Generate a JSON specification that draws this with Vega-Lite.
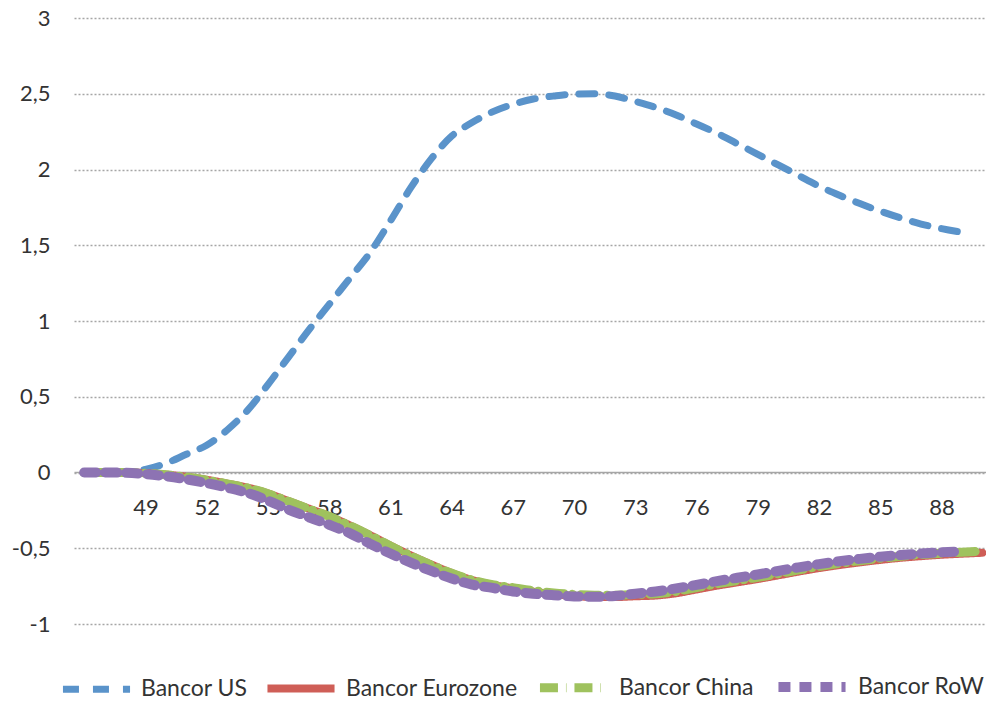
{
  "$schema": "https://vega.github.io/schema/vega-lite/v6.json",
  "autosize": {"type": "none"},
  "width": 912,
  "height": 606,
  "padding": {"left": 74, "top": 18, "right": 0, "bottom": 78},
  "background": "white",
  "config": {
    "view": {"stroke": null},
    "font": "Lato",
    "axis": {"labelFont": "Lato", "labelColor": "#333333", "labelFontSize": 22, "ticks": false, "title": null},
    "legend": {
      "orient": "none",
      "direction": "horizontal",
      "legendX": -15,
      "legendY": 630,
      "symbolType": "stroke",
      "symbolSize": 4500,
      "labelFont": "Lato",
      "labelFontSize": 23,
      "labelColor": "#333333",
      "labelOffset": 7,
      "labelLimit": 400,
      "columnPadding": 3
    }
  },
  "data": {
    "values": [
      {"t": 46, "Bancor US": 0, "Bancor Eurozone": 0, "Bancor China": 0, "Bancor RoW": 0},
      {"t": 47, "Bancor US": 0, "Bancor Eurozone": 0, "Bancor China": 0, "Bancor RoW": 0},
      {"t": 48, "Bancor US": 0.002, "Bancor Eurozone": 0, "Bancor China": 0, "Bancor RoW": -0.002},
      {"t": 49, "Bancor US": 0.02, "Bancor Eurozone": -0.004, "Bancor China": -0.005, "Bancor RoW": -0.01},
      {"t": 50, "Bancor US": 0.06, "Bancor Eurozone": -0.014, "Bancor China": -0.015, "Bancor RoW": -0.025},
      {"t": 51, "Bancor US": 0.12, "Bancor Eurozone": -0.029, "Bancor China": -0.03, "Bancor RoW": -0.045},
      {"t": 52, "Bancor US": 0.18, "Bancor Eurozone": -0.048, "Bancor China": -0.05, "Bancor RoW": -0.07},
      {"t": 53, "Bancor US": 0.28, "Bancor Eurozone": -0.073, "Bancor China": -0.075, "Bancor RoW": -0.1},
      {"t": 54, "Bancor US": 0.41, "Bancor Eurozone": -0.1, "Bancor China": -0.102, "Bancor RoW": -0.135},
      {"t": 55, "Bancor US": 0.58, "Bancor Eurozone": -0.138, "Bancor China": -0.14, "Bancor RoW": -0.185},
      {"t": 56, "Bancor US": 0.76, "Bancor Eurozone": -0.188, "Bancor China": -0.19, "Bancor RoW": -0.245},
      {"t": 57, "Bancor US": 0.94, "Bancor Eurozone": -0.238, "Bancor China": -0.24, "Bancor RoW": -0.295},
      {"t": 58, "Bancor US": 1.11, "Bancor Eurozone": -0.288, "Bancor China": -0.29, "Bancor RoW": -0.345},
      {"t": 59, "Bancor US": 1.28, "Bancor Eurozone": -0.348, "Bancor China": -0.35, "Bancor RoW": -0.4},
      {"t": 60, "Bancor US": 1.45, "Bancor Eurozone": -0.413, "Bancor China": -0.415, "Bancor RoW": -0.47},
      {"t": 61, "Bancor US": 1.66, "Bancor Eurozone": -0.482, "Bancor China": -0.485, "Bancor RoW": -0.535},
      {"t": 62, "Bancor US": 1.88, "Bancor Eurozone": -0.547, "Bancor China": -0.55, "Bancor RoW": -0.595},
      {"t": 63, "Bancor US": 2.07, "Bancor Eurozone": -0.607, "Bancor China": -0.61, "Bancor RoW": -0.65},
      {"t": 64, "Bancor US": 2.22, "Bancor Eurozone": -0.663, "Bancor China": -0.665, "Bancor RoW": -0.7},
      {"t": 65, "Bancor US": 2.31, "Bancor Eurozone": -0.71, "Bancor China": -0.71, "Bancor RoW": -0.74},
      {"t": 66, "Bancor US": 2.38, "Bancor Eurozone": -0.742, "Bancor China": -0.74, "Bancor RoW": -0.762},
      {"t": 67, "Bancor US": 2.43, "Bancor Eurozone": -0.765, "Bancor China": -0.76, "Bancor RoW": -0.785},
      {"t": 68, "Bancor US": 2.465, "Bancor Eurozone": -0.787, "Bancor China": -0.78, "Bancor RoW": -0.8},
      {"t": 69, "Bancor US": 2.485, "Bancor Eurozone": -0.803, "Bancor China": -0.795, "Bancor RoW": -0.81},
      {"t": 70, "Bancor US": 2.498, "Bancor Eurozone": -0.815, "Bancor China": -0.805, "Bancor RoW": -0.818},
      {"t": 71, "Bancor US": 2.5, "Bancor Eurozone": -0.822, "Bancor China": -0.81, "Bancor RoW": -0.82},
      {"t": 72, "Bancor US": 2.485, "Bancor Eurozone": -0.822, "Bancor China": -0.81, "Bancor RoW": -0.815},
      {"t": 73, "Bancor US": 2.45, "Bancor Eurozone": -0.817, "Bancor China": -0.805, "Bancor RoW": -0.8},
      {"t": 74, "Bancor US": 2.41, "Bancor Eurozone": -0.812, "Bancor China": -0.8, "Bancor RoW": -0.785},
      {"t": 75, "Bancor US": 2.36, "Bancor Eurozone": -0.797, "Bancor China": -0.785, "Bancor RoW": -0.765},
      {"t": 76, "Bancor US": 2.3, "Bancor Eurozone": -0.772, "Bancor China": -0.76, "Bancor RoW": -0.742},
      {"t": 77, "Bancor US": 2.24, "Bancor Eurozone": -0.747, "Bancor China": -0.735, "Bancor RoW": -0.717},
      {"t": 78, "Bancor US": 2.17, "Bancor Eurozone": -0.725, "Bancor China": -0.713, "Bancor RoW": -0.695},
      {"t": 79, "Bancor US": 2.1, "Bancor Eurozone": -0.703, "Bancor China": -0.692, "Bancor RoW": -0.673},
      {"t": 80, "Bancor US": 2.03, "Bancor Eurozone": -0.679, "Bancor China": -0.668, "Bancor RoW": -0.65},
      {"t": 81, "Bancor US": 1.96, "Bancor Eurozone": -0.654, "Bancor China": -0.643, "Bancor RoW": -0.626},
      {"t": 82, "Bancor US": 1.89, "Bancor Eurozone": -0.631, "Bancor China": -0.62, "Bancor RoW": -0.605},
      {"t": 83, "Bancor US": 1.83, "Bancor Eurozone": -0.611, "Bancor China": -0.6, "Bancor RoW": -0.586},
      {"t": 84, "Bancor US": 1.775, "Bancor Eurozone": -0.593, "Bancor China": -0.582, "Bancor RoW": -0.57},
      {"t": 85, "Bancor US": 1.725, "Bancor Eurozone": -0.577, "Bancor China": -0.566, "Bancor RoW": -0.556},
      {"t": 86, "Bancor US": 1.68, "Bancor Eurozone": -0.563, "Bancor China": -0.553, "Bancor RoW": -0.545},
      {"t": 87, "Bancor US": 1.64, "Bancor Eurozone": -0.552, "Bancor China": -0.542, "Bancor RoW": -0.535},
      {"t": 88, "Bancor US": 1.61, "Bancor Eurozone": -0.543, "Bancor China": -0.533, "Bancor RoW": -0.527},
      {"t": 89, "Bancor US": 1.585, "Bancor Eurozone": -0.536, "Bancor China": -0.526, "Bancor RoW": -0.52},
      {"t": 90, "Bancor Eurozone": -0.53, "Bancor China": -0.52}
    ]
  },
  "transform": [
    {"fold": ["Bancor US", "Bancor Eurozone", "Bancor China", "Bancor RoW"], "as": ["series", "value"]}
  ],
  "mark": {"type": "line", "interpolate": "monotone", "strokeCap": "round", "strokeJoin": "round"},
  "encoding": {
    "x": {
      "field": "t",
      "type": "quantitative",
      "scale": {"domain": [45.5, 90.18], "nice": false, "zero": false},
      "axis": {
        "values": [49, 52, 55, 58, 61, 64, 67, 70, 73, 76, 79, 82, 85, 88],
        "grid": false,
        "offset": -152,
        "domainColor": "#A6A6A6",
        "domainWidth": 1.5,
        "labelPadding": 25,
        "labelFlush": false,
        "labelOverlap": false
      }
    },
    "y": {
      "field": "value",
      "type": "quantitative",
      "scale": {"domain": [-1, 3], "nice": false},
      "axis": {
        "values": [-1, -0.5, 0, 0.5, 1, 1.5, 2, 2.5, 3],
        "domain": false,
        "grid": true,
        "gridColor": "#A6A6A6",
        "gridDash": [2, 2],
        "gridWidth": 1.5,
        "labelPadding": 24,
        "labelExpr": "(datum.value < 0 ? '-' : '') + replace('' + abs(datum.value), '.', ',')"
      }
    },
    "color": {
      "field": "series",
      "type": "nominal",
      "scale": {
        "domain": ["Bancor US", "Bancor Eurozone", "Bancor China", "Bancor RoW"],
        "range": ["#5A93CA", "#CF5E57", "#9FC25E", "#8D73B3"]
      },
      "legend": {"title": null}
    },
    "strokeDash": {
      "field": "series",
      "type": "nominal",
      "scale": {
        "domain": ["Bancor US", "Bancor Eurozone", "Bancor China", "Bancor RoW"],
        "range": [[16, 14], [1, 0], [18, 8, 0.5, 8], [12, 9]]
      },
      "legend": {"title": null}
    },
    "strokeWidth": {
      "field": "series",
      "type": "nominal",
      "scale": {
        "domain": ["Bancor US", "Bancor Eurozone", "Bancor China", "Bancor RoW"],
        "range": [7, 10, 4.5, 5]
      },
      "legend": {"title": null}
    }
  }
}
